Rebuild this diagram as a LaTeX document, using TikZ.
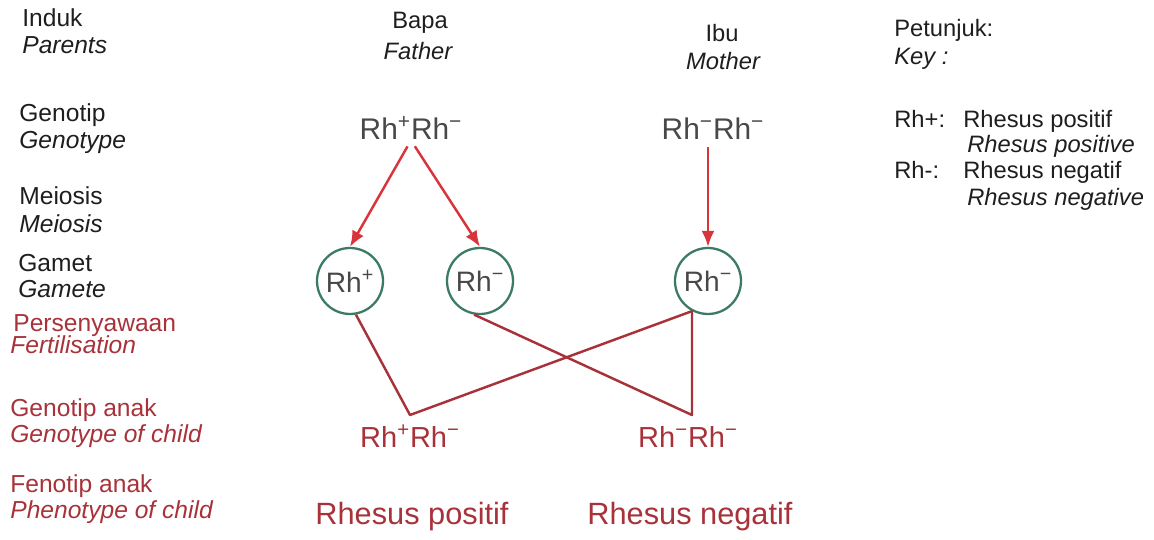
\documentclass[tikz,border=0pt]{standalone}
\usepackage{fontspec}
\setmainfont{Liberation Sans}
\usetikzlibrary{arrows.meta}
\definecolor{rhRed}{HTML}{A8323A}
\definecolor{rhArrow}{HTML}{D8343C}
\definecolor{rhGreen}{HTML}{3B7A64}
\definecolor{rhInk}{HTML}{1E1E1E}
\definecolor{rhGray}{HTML}{484848}

\newcommand{\rhpos}{Rh\textsuperscript{+}}
\newcommand{\rhneg}{Rh\textsuperscript{−}}

\begin{document}
\begin{tikzpicture}[
    x=0.02cm, y=-0.02cm,
    lbl/.style={anchor=base west, inner sep=0pt, text=rhInk, font=\fontsize{13.5}{16}\selectfont},
    row/.style={lbl, font=\fontsize{14}{16}\selectfont},
    rowred/.style={row, text=rhRed},
    head/.style={lbl, anchor=base},
    geno/.style={anchor=base, inner sep=0pt, text=rhGray, font=\fontsize{17}{20}\selectfont},
    child/.style={geno, text=rhRed, font=\fontsize{16.5}{20}\selectfont},
    pheno/.style={geno, text=rhRed, font=\fontsize{17.5}{20}\selectfont},
    gamete/.style={circle, draw=rhGreen, line width=1.3pt, minimum size=1.32cm, inner sep=0pt, text=rhGray, font=\fontsize{16}{18}\selectfont},
    arrow/.style={-{Latex[length=3.2mm, width=2.6mm]}, line width=1.4pt, draw=rhArrow},
    cross/.style={line width=1.4pt, draw=rhRed, line join=round}
  ]
    \useasboundingbox (0,0) rectangle (1154,540);

    % row labels
    \node[row] (induk) at (22,27) {Induk};
    \node[row] (parents) at (22,54) {\itshape Parents};
    \node[row] (genotip) at (19,122) {Genotip};
    \node[row] (genotype) at (19,149) {\itshape Genotype};
    \node[row] (meiosis) at (19,205) {Meiosis};
    \node[row] (meiosisE) at (19,233) {\itshape Meiosis};
    \node[row] (gamet) at (18,272) {Gamet};
    \node[row] (gameteE) at (18,298) {\itshape Gamete};
    \node[rowred] (fert) at (13,332) {Persenyawaan};
    \node[rowred] (fertE) at (10,354) {\itshape Fertilisation};
    \node[rowred] (ganak) at (10,417) {Genotip anak};
    \node[rowred] (ganakE) at (10,443) {\itshape Genotype of child};
    \node[rowred] (fanak) at (10,493) {Fenotip anak};
    \node[rowred] (fanakE) at (10,519) {\itshape Phenotype of child};

    % parents
    \node[head] (bapa) at (420,29) {Bapa};
    \node[head] (father) at (418,60) {\itshape Father};
    \node[head] (ibu) at (722,42) {Ibu};
    \node[head] (mother) at (723,70) {\itshape Mother};

    \node[geno] (gf) at (411,140) {\rhpos\rhneg};
    \node[geno] (gm) at (713,140) {\rhneg\rhneg};

    % gametes
    \node[gamete] (gp) at (350,281) {\rhpos};
    \node[gamete] (gn) at (480,281) {\rhneg};
    \node[gamete] (mc) at (708,281) {\rhneg};

    \draw[arrow, shorten <=4pt] (gf.south) -- (gp.north);
    \draw[arrow, shorten <=4pt] (gf.south) -- (gn.north);
    \draw[arrow, shorten <=4pt] (gm.south -| mc) -- (mc.north);

    % fertilisation
    \coordinate (j1) at (410,415);
    \path (mc.-118) coordinate (mcb);
    \coordinate (j2) at (mcb |- j1);
    \draw[cross] (gp.-80) -- (j1) -- (mcb);
    \draw[cross] (gn.-100) -- (j2) -- (mcb);

    % children
    \node[child] (c1) at (410,448) {\rhpos\rhneg};
    \node[child] (c2) at (688,448) {\rhneg\rhneg};
    \node[pheno] (p1) at (412,525) {Rhesus positif};
    \node[pheno] (p2) at (690,525) {Rhesus negatif};

    % key
    \node[lbl] (petunjuk) at (894,37) {Petunjuk:};
    \node[lbl] (key) at (894,65) {\itshape Key :};
    \node[lbl] (kp) at (894,128) {Rh+:};
    \node[lbl] (kpT) at (963,128) {Rhesus positif};
    \node[lbl] (kpE) at (967,153) {\itshape Rhesus positive};
    \node[lbl] (kn) at (894,179) {Rh-:};
    \node[lbl] (knT) at (963,179) {Rhesus negatif};
    \node[lbl] (knE) at (967,206) {\itshape Rhesus negative};
\end{tikzpicture}
\end{document}
